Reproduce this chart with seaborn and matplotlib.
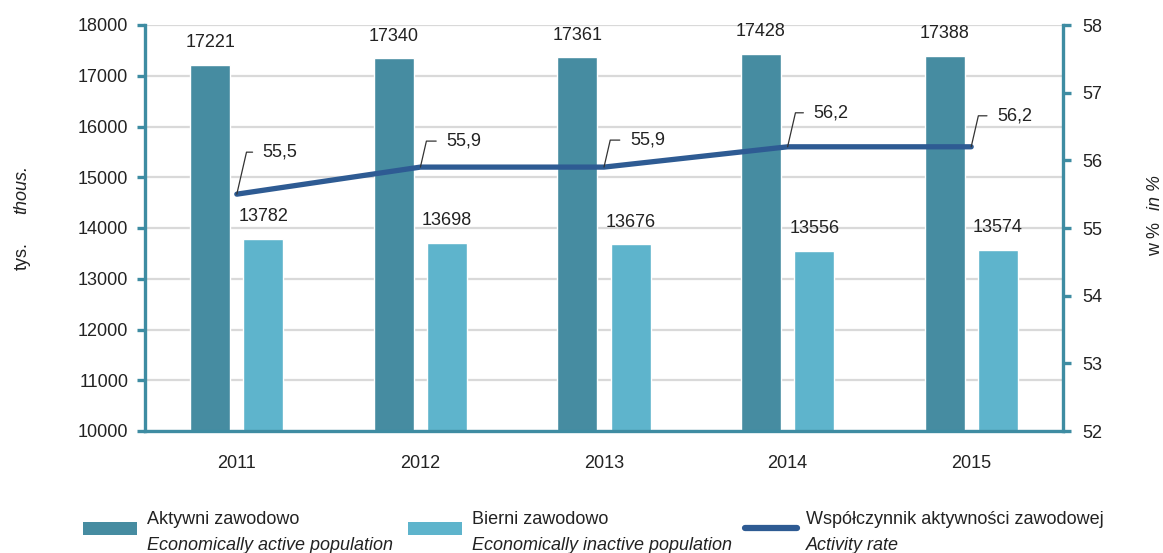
import numpy as np
import pandas as pd
import matplotlib
matplotlib.use('Agg')
import matplotlib.pyplot as plt
import seaborn as sns
from matplotlib.patches import Rectangle
from matplotlib.lines import Line2D

# ---- data ----
years = ['2011', '2012', '2013', '2014', '2015']
active = [17221, 17340, 17361, 17428, 17388]
inactive = [13782, 13698, 13676, 13556, 13574]
rate = [55.5, 55.9, 55.9, 56.2, 56.2]
series_pl = ['Aktywni zawodowo', 'Bierni zawodowo', 'Współczynnik aktywności zawodowej']
series_en = ['Economically active population', 'Economically inactive population', 'Activity rate']
left_ticks = [10000, 11000, 12000, 13000, 14000, 15000, 16000, 17000, 18000]
right_ticks = [52, 53, 54, 55, 56, 57, 58]

# ---- layout tweaks (pixels) ----
rate_label_dy = [42, 26, 27, 34, 31]

c_act = '#468ca1'
c_inact = '#5eb4cc'
c_line = '#2e5b93'
c_spine = '#3e8ca2'
c_grid = '#d9d9d9'
c_text = '#222222'

sns.set_style('white')
fam = ['Liberation Sans Narrow', 'Liberation Sans', 'DejaVu Sans']
plt.rcParams['font.family'] = fam

W, H = 1163, 553
fig = plt.figure(figsize=(W / 100, H / 100), dpi=100)
ax = fig.add_axes([145 / W, 1 - 431 / H, (1063 - 145) / W, (431 - 25) / H])

df = pd.DataFrame({
    'year': years * 2,
    'value': active + inactive,
    'series': [series_pl[0]] * len(years) + [series_pl[1]] * len(years),
})
sns.barplot(data=df, x='year', y='value', hue='series', palette=[c_act, c_inact],
            width=0.58, gap=0.25, saturation=1, ax=ax, legend=False)

ax.set_ylim(10000, 18000)
ax.set_yticks(left_ticks)
ax.set_xlabel('')
ax.set_ylabel('')
ax.yaxis.grid(True, color=c_grid, lw=1.6)
ax.set_axisbelow(True)
for s in ['top', 'right']:
    ax.spines[s].set_visible(False)
for s in ['left', 'bottom']:
    ax.spines[s].set_color(c_spine)
    ax.spines[s].set_linewidth(2.4)
ax.tick_params(axis='y', length=6, width=2.4, color=c_spine, pad=6, labelsize=13, labelcolor=c_text)
ax.tick_params(axis='x', length=0, pad=17, labelsize=13, labelcolor=c_text)

for cont, vals in zip(ax.containers, [active, inactive]):
    ax.bar_label(cont, labels=[str(v) for v in vals], padding=10, fontsize=13, color=c_text)

ax2 = ax.twinx()
sns.lineplot(x=np.arange(len(years)), y=rate, ax=ax2, color=c_line, lw=3.8,
             legend=False, solid_capstyle='round')
ax2.set_ylim(52, 58)
ax2.set_yticks(right_ticks)
ax2.set_ylabel('')
ax.set_xlim(-0.5, len(years) - 0.5)
for s in ['top', 'left', 'bottom']:
    ax2.spines[s].set_visible(False)
ax2.spines['right'].set_color(c_spine)
ax2.spines['right'].set_linewidth(2.4)
ax2.tick_params(axis='y', length=6, width=2.4, color=c_spine, pad=8, labelsize=13, labelcolor=c_text)

for i, (r, dy) in enumerate(zip(rate, rate_label_dy)):
    ax2.annotate(f'{r:.1f}'.replace('.', ','), xy=(i, r), xytext=(26, dy),
                 textcoords='offset pixels', ha='left', va='center', fontsize=13, color=c_text,
                 arrowprops=dict(arrowstyle='-', color='#333333', lw=0.9,
                                 connectionstyle='angle,angleA=0,angleB=77,rad=0',
                                 relpos=(0, 0.5), shrinkA=5, shrinkB=0))

# axis titles
fig.text(22 / W, 1 - 256 / H, 'tys.', rotation=90, ha='center', va='center', fontsize=13, color=c_text)
fig.text(22 / W, 1 - 190 / H, 'thous.', rotation=90, ha='center', va='center', fontsize=13,
         style='italic', color=c_text)
fig.text(1156 / W, 1 - 239 / H, 'w %', rotation=90, ha='center', va='center', fontsize=13, color=c_text)
fig.text(1156 / W, 1 - 193 / H, 'in %', rotation=90, ha='center', va='center', fontsize=13,
         style='italic', color=c_text)

# legend
leg_x = [83, 408, 745]
leg_tx = [147, 472, 806]
for k in range(3):
    if k < 2:
        fig.add_artist(Rectangle((leg_x[k] / W, 1 - 535 / H), 54 / W, 13 / H,
                                 transform=fig.transFigure, color=[c_act, c_inact][k], lw=0))
    else:
        fig.add_artist(Line2D([leg_x[k] / W, 797 / W], [1 - 528 / H] * 2, transform=fig.transFigure,
                              color=c_line, lw=4.5, solid_capstyle='round'))
    fig.text(leg_tx[k] / W, 1 - 520 / H, series_pl[k], ha='left', va='center', fontsize=13, color=c_text)
    fig.text(leg_tx[k] / W, 1 - 545 / H, series_en[k], ha='left', va='center', fontsize=13,
             style='italic', color=c_text)

fig.savefig('out.png', dpi=100, facecolor='white')
